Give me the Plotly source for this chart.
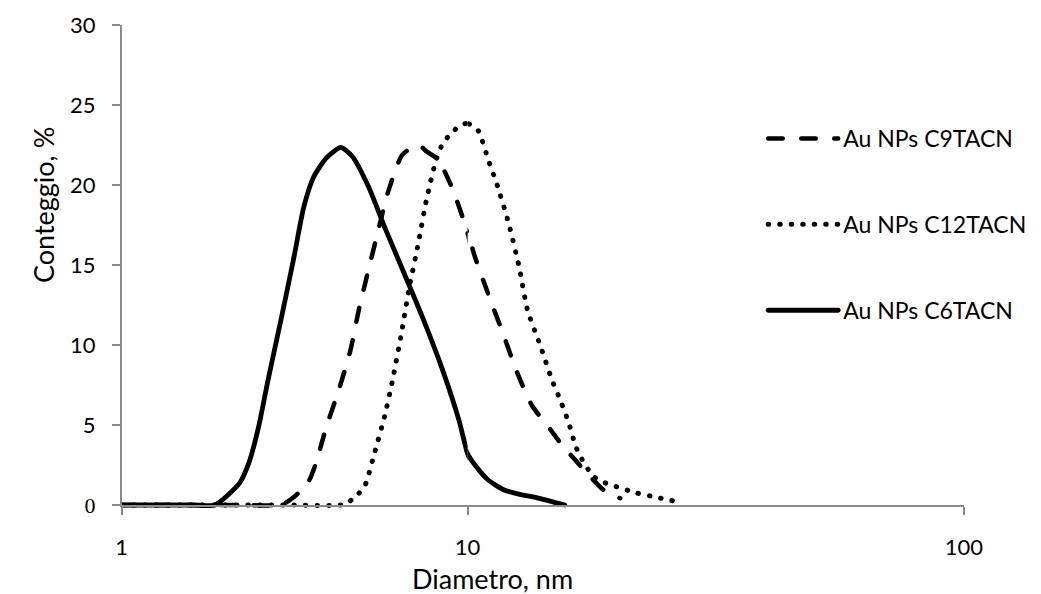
import plotly.graph_objects as go

# Particle size distributions (DLS, number %), diameter in nm
c9_diam = [1.0, 1.4, 1.8, 2.3, 2.89, 3.15, 3.47, 3.63, 3.91, 4.26, 4.59, 4.85, 5.17, 5.51,
           5.88, 6.48, 7.21, 7.61, 8.21, 9.03, 10.0, 10.35, 11.0, 11.76, 12.54, 13.46,
           14.7, 15.5, 16.6, 17.5, 18.8, 20.3]
c9_count = [0, 0, 0, 0, 0, 0.5, 1.46, 2.5, 4.9, 7.3, 9.7, 12.2, 14.7, 17.1,
            19.5, 21.9, 22.5, 22.1, 21.6, 19.8, 17.0, 15.5, 13.2, 10.8, 8.4, 6.25,
            4.7, 3.75, 2.7, 1.9, 0.94, 0.42]

c12_diam = [1.0, 2.0, 3.0, 4.3, 4.54, 4.85, 5.06, 5.39, 5.75, 6.07, 6.41, 6.76, 7.21,
            7.61, 8.12, 8.48, 9.03, 9.56, 10.0, 10.5, 11.0, 11.5, 12.1, 12.7, 13.2,
            14.0, 14.8, 15.4, 16.0, 16.5, 16.9, 17.9, 18.7, 19.7, 21.8, 24.2, 26.9]
c12_count = [0, 0, 0, 0, 0.2, 0.73, 1.25, 3.3, 5.5, 7.8, 10.5, 13.4, 16.4,
             19.1, 21.6, 22.6, 23.3, 23.75, 23.85, 23.4, 21.6, 19.9, 17.6, 14.9, 12.2,
             10.0, 7.8, 6.5, 5.1, 3.7, 3.0, 1.8, 1.45, 1.2, 0.77, 0.46, 0.15]

c6_diam = [1.0, 1.3, 1.6, 1.86, 2.19, 2.33, 2.49, 2.65, 2.89, 3.15, 3.36, 3.59, 3.91,
           4.30, 4.64, 5.17, 5.75, 6.55, 7.45, 8.48, 9.44, 10.0, 10.35, 11.0, 11.85,
           12.8, 13.8, 15.7]
c6_count = [0, 0, 0, 0, 1.35, 2.6, 4.9, 7.8, 11.6, 15.5, 18.6, 20.5, 21.7,
            22.35, 21.8, 19.9, 17.4, 14.5, 11.6, 8.4, 5.3, 3.2, 2.5, 1.56, 0.94,
            0.65, 0.45, 0]

series_names = ["Au NPs C9TACN", "Au NPs C12TACN", "Au NPs C6TACN"]
series_data = {
    "Au NPs C9TACN": (c9_diam, c9_count),
    "Au NPs C12TACN": (c12_diam, c12_count),
    "Au NPs C6TACN": (c6_diam, c6_count),
}

y_ticks = [0, 5, 10, 15, 20, 25, 30]
x_ticks_low = [1]
x_ticks_high = [10, 100]

# line styles (round caps are applied after rendering)
line_styles = {
    "Au NPs C9TACN": dict(color="black", width=4.5, dash="14.5px,18.5px"),
    "Au NPs C12TACN": dict(color="black", width=5, dash="0.5px,11px"),
    "Au NPs C6TACN": dict(color="black", width=4.8, dash="solid"),
}

AXIS_COLOR = "#8a8a8a"
W, H = 1041, 594
X_LEFT, X_MID, X_RIGHT = 112, 469, 981
PIVOT = 10.0  # the diameter axis uses a wider scale for the 10-100 nm decade


def split_series(diam, count):
    """Split at the pivot; each half keeps one neighbour beyond it so the
    curve runs smoothly into the axis boundary (clipped there)."""
    lo_idx = [i for i, d in enumerate(diam) if d <= PIVOT]
    hi_idx = [i for i, d in enumerate(diam) if d >= PIVOT]
    lo_idx = lo_idx + [lo_idx[-1] + 1] if lo_idx[-1] + 1 < len(diam) else lo_idx
    hi_idx = [hi_idx[0] - 1] + hi_idx if hi_idx[0] > 0 else hi_idx
    lo = ([diam[i] for i in lo_idx], [count[i] for i in lo_idx])
    hi = ([diam[i] for i in hi_idx], [count[i] for i in hi_idx])
    return lo, hi


fig = go.Figure()
for name in series_names:
    lo, hi = split_series(*series_data[name])
    for (xs, ys), xa, show in ((lo, "x", True), (hi, "x2", False)):
        fig.add_trace(go.Scatter(
            x=xs, y=ys, mode="lines", name=name, legendgroup=name, showlegend=show,
            line=dict(shape="spline", smoothing=0.6, **line_styles[name]),
            xaxis=xa, yaxis="y", hoverinfo="skip",
        ))

common_x = dict(
    type="log", showline=True, linecolor=AXIS_COLOR, linewidth=1.5,
    ticks="outside", ticklen=8, tickwidth=1.5, tickcolor=AXIS_COLOR,
    showgrid=False, zeroline=False, anchor="y", ticklabelstandoff=14,
    tickfont=dict(family="Lato", size=22, color="black"),
)

y_text = ["<span style=\"font-family:'Liberation Serif'\">0</span>"] + [str(v) for v in y_ticks[1:]]

fig.update_layout(
    width=W, height=H,
    margin=dict(l=0, r=0, t=25, b=89),
    paper_bgcolor="white", plot_bgcolor="white",
    font=dict(family="Lato", size=22, color="black"),
    xaxis=dict(common_x, range=[0, 1], domain=[X_LEFT / W, X_MID / W],
               tickvals=x_ticks_low, ticktext=[str(v) for v in x_ticks_low]),
    xaxis2=dict(common_x, range=[1, 2], domain=[X_MID / W, X_RIGHT / W],
                tickvals=x_ticks_high, ticktext=[str(v) for v in x_ticks_high]),
    yaxis=dict(range=[0, 30], domain=[0, 1], anchor="x",
               showline=True, linecolor=AXIS_COLOR, linewidth=1.5,
               ticks="outside", ticklen=8, tickwidth=1.5, tickcolor=AXIS_COLOR,
               showgrid=False, zeroline=False, ticklabelstandoff=12,
               tickvals=y_ticks, ticktext=y_text,
               tickfont=dict(family="Lato", size=22, color="black")),
    legend=dict(x=774 / W, y=(505 - 117) / 480, xanchor="left", yanchor="top",
                bgcolor="rgba(0,0,0,0)", tracegroupgap=53, itemwidth=70,
                font=dict(family="Lato", size=23, color="black")),
    annotations=[
        dict(text="Diametro, nm", x=495 / W, y=(505 - 578) / 480, xref="paper", yref="paper",
             showarrow=False, xanchor="center", yanchor="middle",
             font=dict(family="Lato", size=27, color="black")),
        dict(text="Conteggio, %", x=31 / W, y=(505 - 205) / 480, xref="paper", yref="paper",
             showarrow=False, xanchor="center", yanchor="middle", textangle=-90,
             font=dict(family="Lato", size=27, color="black")),
    ],
)

# round line caps; let the plot clip extend a little below/above the axes so the
# zero baseline keeps its full stroke width (horizontal clipping stays as is)
post = """
var gd = document.getElementById('{plot_id}');
gd.querySelectorAll('clipPath').forEach(function(cp){
  if (/x2?yplot$/.test(cp.id)) {
    var r = cp.querySelector('rect');
    var y = parseFloat(r.getAttribute('y') || 0);
    var h = parseFloat(r.getAttribute('height'));
    r.setAttribute('y', y - 8);
    r.setAttribute('height', h + 16);
  }
});
gd.querySelectorAll('path.js-line').forEach(function(p){
  p.style.strokeLinecap = 'round';
  p.style.strokeLinejoin = 'round';
});
"""

fig.write_html("out.html", post_script=post)
